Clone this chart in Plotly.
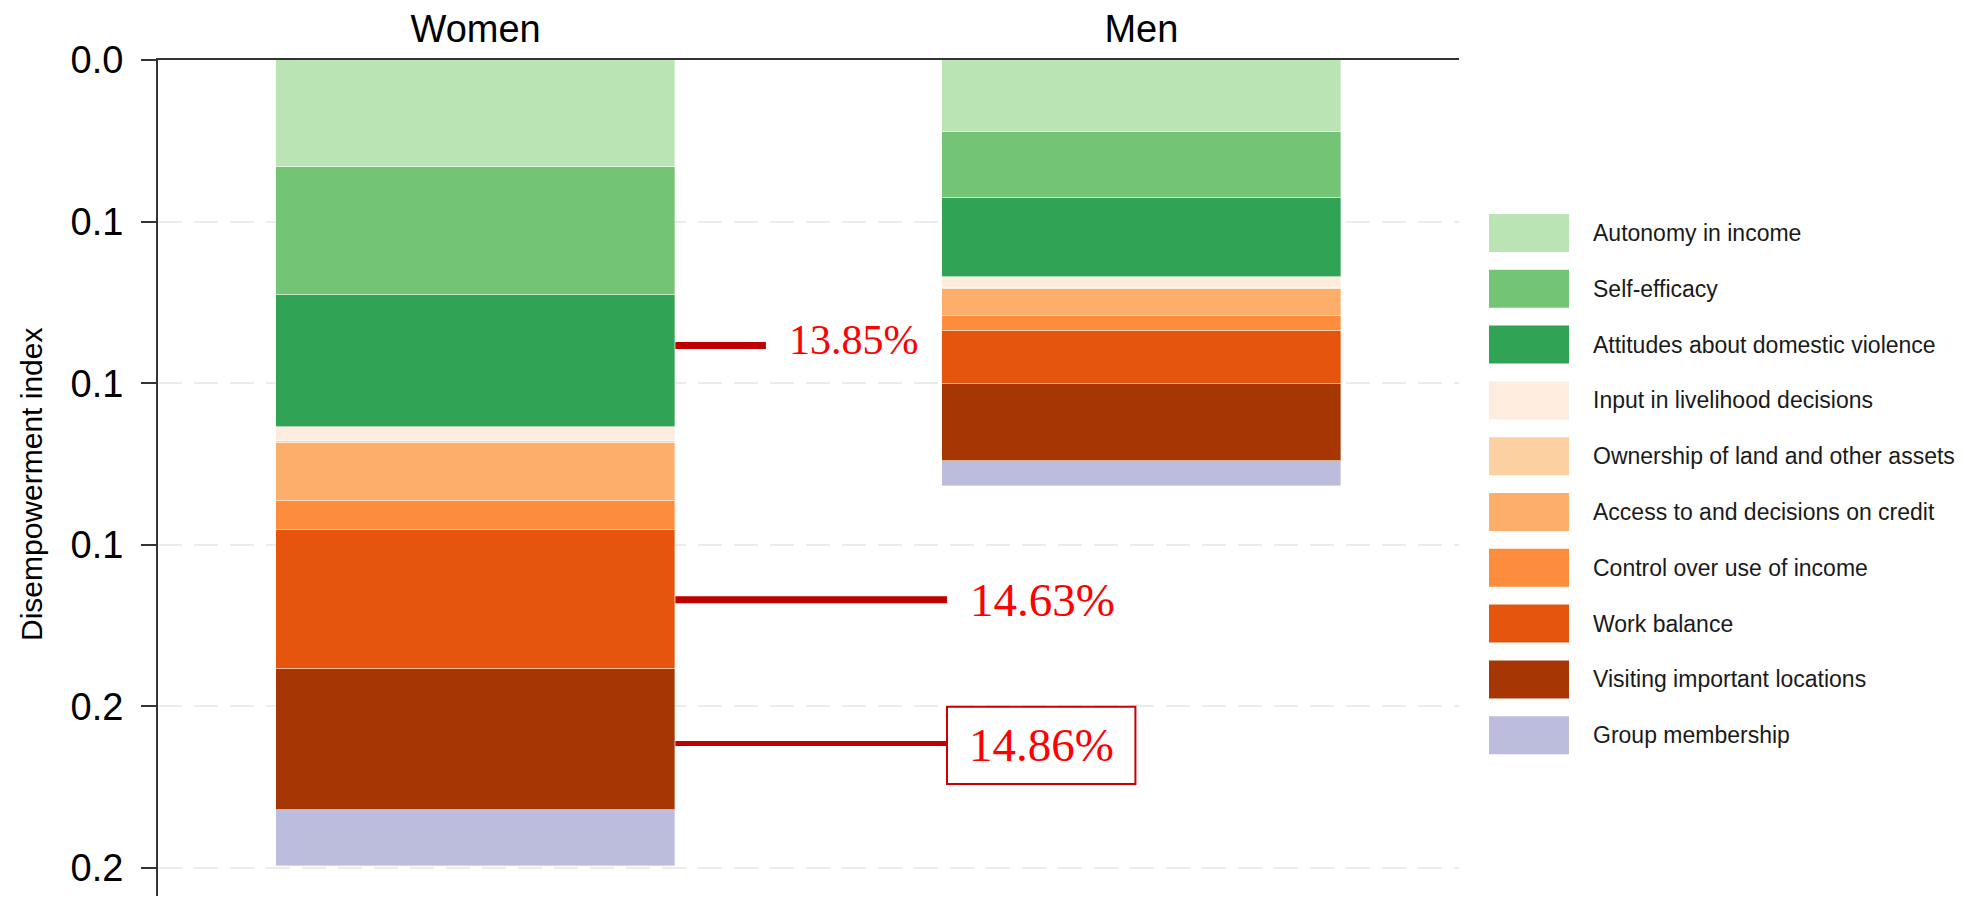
import plotly.graph_objects as go

# ---------------- data ----------------
groups = ["Women", "Men"]
indicators = [
    "Autonomy in income",
    "Self-efficacy",
    "Attitudes about domestic violence",
    "Input in livelihood decisions",
    "Ownership of land and other assets",
    "Access to and decisions on credit",
    "Control over use of income",
    "Work balance",
    "Visiting important locations",
    "Group membership",
]
women_values = [0.0331, 0.0397, 0.0409, 0.0043, 0.0005, 0.0181, 0.0087, 0.0432, 0.0437, 0.0173]
men_values = [0.0222, 0.0206, 0.0244, 0.0033, 0.0003, 0.0085, 0.0045, 0.0166, 0.0238, 0.0075]
colors = ["#bae4b3", "#74c476", "#31a354", "#feedde", "#fdd0a2",
          "#fdae6b", "#fd8d3c", "#e6550d", "#a63603", "#bcbddc"]

tick_vals = [0.0, 0.05, 0.10, 0.15, 0.20, 0.25]
tick_labels = ["0.0", "0.1", "0.1", "0.1", "0.2", "0.2"]

callout_labels = ["13.85%", "14.63%", "14.86%"]
callout_y = [0.0883, 0.167, 0.2115]

# ---------------- layout constants ----------------
OFF = 8                      # page body margin
W, H = 1964 - 2 * OFF, 904 - 2 * OFF
ML, MT, MB = 158 - OFF, 60 - OFF, 0
MR = (OFF + W) - 1459
PW, PH = W - ML - MR, H - MT - MB
PX_PER_UNIT = 3232.0
Y_MAX = PH / PX_PER_UNIT
BAR_WIDTH = 0.6
SANS = "Liberation Sans, Arial, sans-serif"
SERIF = "Palatino Linotype, Book Antiqua, Palatino, Liberation Serif, DejaVu Serif, serif"


def px_x(px):
    return (px - OFF - ML) / PW


def px_y(py):
    return 1 - (py - OFF - MT) / PH


fig = go.Figure()
for i, name in enumerate(indicators):
    fig.add_trace(go.Bar(
        x=groups,
        y=[women_values[i], men_values[i]],
        name=name,
        width=BAR_WIDTH,
        marker=dict(color=colors[i], line=dict(color="rgba(255,255,255,0.45)", width=0.8)),
        showlegend=False,
    ))

shapes = []
annotations = []

# custom legend (large swatches)
leg_top = 233
leg_step = 55.8
for i, name in enumerate(indicators):
    cy = leg_top + i * leg_step
    shapes.append(dict(type="rect", xref="paper", yref="paper",
                       x0=px_x(1489), x1=px_x(1569), y0=px_y(cy + 19), y1=px_y(cy - 19),
                       fillcolor=colors[i], line=dict(width=0), layer="above"))
    annotations.append(dict(xref="paper", yref="paper", x=px_x(1591), y=px_y(cy),
                            xanchor="left", yanchor="middle", showarrow=False,
                            text=name, font=dict(family=SANS, size=23, color="#1a1a1a")))

# y-axis title
annotations.append(dict(xref="paper", yref="paper", x=px_x(31), y=px_y(485),
                        xanchor="center", yanchor="middle", showarrow=False, textangle=-90,
                        text="Disempowerment index", font=dict(family=SANS, size=30, color="black")))

# callouts
edge = BAR_WIDTH / 2
line_ends = [0.436, 0.708, 0.708]
line_widths = [7, 7, 5]
for k in range(3):
    shapes.append(dict(type="line", xref="x", yref="y", x0=edge, x1=line_ends[k],
                       y0=callout_y[k], y1=callout_y[k],
                       line=dict(color="#c00000", width=line_widths[k]), layer="above"))

annotations.append(dict(xref="x", yref="y", x=0.4674, y=callout_y[0], yshift=5,
                        xanchor="left", yanchor="middle", showarrow=False,
                        text=callout_labels[0], font=dict(family=SERIF, size=42, color="#ff0000")))
annotations.append(dict(xref="x", yref="y", x=0.7395, y=callout_y[1],
                        xanchor="left", yanchor="middle", showarrow=False,
                        text=callout_labels[1], font=dict(family=SERIF, size=47, color="#ff0000")))
shapes.append(dict(type="rect", xref="x", yref="y", x0=0.708, x1=0.991, y0=0.2001, y1=0.2240,
                   fillcolor="white", line=dict(color="#cc0000", width=2), layer="above"))
annotations.append(dict(xref="x", yref="y", x=0.8495, y=0.2120,
                        xanchor="center", yanchor="middle", showarrow=False,
                        text=callout_labels[2], font=dict(family=SERIF, size=47, color="#ff0000")))

fig.update_layout(
    width=W, height=H,
    margin=dict(l=ML, r=MR, t=MT, b=MB, pad=0),
    barmode="stack",
    bargap=0,
    plot_bgcolor="white",
    paper_bgcolor="white",
    font=dict(family=SANS, color="black"),
    shapes=shapes,
    annotations=annotations,
    showlegend=False,
)

fig.update_xaxes(
    type="category",
    categoryorder="array", categoryarray=groups,
    range=[-0.477, 1.477],
    side="top",
    showline=True, linecolor="#333333", linewidth=2,
    ticks="", showgrid=False, zeroline=False,
    tickfont=dict(family=SANS, size=38, color="black"),
    ticklabelstandoff=1,
)
fig.update_yaxes(
    range=[Y_MAX, 0],
    tickvals=tick_vals, ticktext=tick_labels,
    ticks="outside", ticklen=15, tickwidth=2, tickcolor="#333333",
    showline=True, linecolor="#333333", linewidth=2,
    showgrid=True, gridcolor="#ebebeb", gridwidth=2, griddash="24px,12px",
    zeroline=False,
    tickfont=dict(family=SANS, size=38, color="black"),
    ticklabelstandoff=10,
)

fig.write_html("out.html")
